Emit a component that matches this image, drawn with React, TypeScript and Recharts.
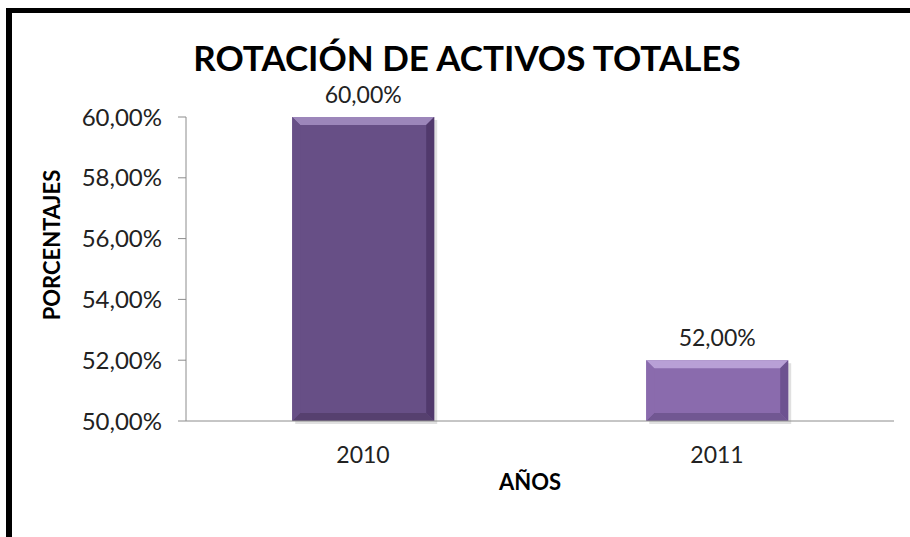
import React from 'react';
import { BarChart, Bar, XAxis, YAxis, Cell, LabelList } from 'recharts';

const years = ['2010', '2011'];
const rotation = [0.6, 0.52];
const yTicks = [0.5, 0.52, 0.54, 0.56, 0.58, 0.6];
const boundaryTicks = [0, 1, 2];

const FONT = 'Lato, "Open Sans", sans-serif';

// base / top bevel / side shade / bottom shade
const BAR_COLORS = [
  { base: '#674F86', top: '#9C86BA', side: '#51396C', bottom: '#56406F' },
  { base: '#8A6BAD', top: '#B8A0D6', side: '#6D5290', bottom: '#715792' },
];

const data = years.map((year, i) => ({ year, value: rotation[i] }));

const pct = (v: number) => (v * 100).toFixed(2).replace('.', ',') + '%';

const BevelBar = (props: any) => {
  const { x, y, width, height, index } = props;
  const c = BAR_COLORS[index] || BAR_COLORS[0];
  const b = 8;
  return (
    <g>
      <rect x={x + 3} y={y + 3} width={width} height={height} fill="rgba(0,0,0,0.12)" />
      <rect x={x} y={y} width={width} height={height} fill={c.base} />
      <polygon points={`${x},${y} ${x + width},${y} ${x + width - b},${y + b} ${x + b},${y + b}`} fill={c.top} />
      <polygon points={`${x + width},${y} ${x + width},${y + height} ${x + width - b},${y + height - b} ${x + width - b},${y + b}`} fill={c.side} />
      <polygon points={`${x},${y + height} ${x + width},${y + height} ${x + width - b},${y + height - b} ${x + b},${y + height - b}`} fill={c.bottom} />
      <polygon points={`${x},${y} ${x + b},${y + b} ${x + b},${y + height - b} ${x},${y + height}`} fill={c.base} opacity={0.9} />
    </g>
  );
};

export default function App() {
  return (
    <div style={{ position: 'absolute', left: 0, top: 0, width: 910, height: 537, background: '#fff', overflow: 'hidden', fontFamily: FONT }}>
      <div style={{ position: 'absolute', left: 6, top: 8, width: 920, height: 560, borderLeft: '6px solid #000', borderTop: '5px solid #000' }} />
      <div style={{ position: 'absolute', left: 0, top: 42, width: 934, height: 30, lineHeight: '30px', textAlign: 'center', fontSize: 35, fontWeight: 700, color: '#000', whiteSpace: 'nowrap' }}>
        ROTACIÓN DE ACTIVOS TOTALES
      </div>
      <div style={{ position: 'absolute', left: 0, top: 0 }}>
        <BarChart width={910} height={537} data={data} margin={{ top: 117, right: 16, bottom: 26, left: 0 }} barCategoryGap="30%">
          <XAxis
            xAxisId="bounds"
            type="number"
            domain={[0, 2]}
            ticks={boundaryTicks}
            height={1}
            tick={false}
            tickSize={8}
            axisLine={{ stroke: '#8c8c8c' }}
            tickLine={{ stroke: '#8c8c8c' }}
          />
          <XAxis
            dataKey="year"
            xAxisId="cat"
            height={89}
            tickLine={false}
            tickSize={0}
            tickMargin={25}
            axisLine={false}
            tick={{ fontSize: 23, fill: '#222', fontFamily: FONT }}
          />
          <YAxis
            width={186}
            domain={[0.5, 0.6]}
            ticks={yTicks}
            tickFormatter={pct}
            tickSize={8}
            tickMargin={16}
            axisLine={{ stroke: '#8c8c8c' }}
            tickLine={{ stroke: '#8c8c8c' }}
            tick={{ fontSize: 24, fill: '#222', fontFamily: FONT }}
          />
          <Bar dataKey="value" xAxisId="cat" shape={BevelBar} isAnimationActive={false}>
            {data.map((d, i) => (
              <Cell key={d.year} fill={BAR_COLORS[i].base} />
            ))}
            <LabelList dataKey="value" position="top" offset={14} formatter={(v: any) => pct(Number(v))} style={{ fontSize: 23, fill: '#222', fontFamily: FONT }} />
          </Bar>
        </BarChart>
      </div>
      <div style={{ position: 'absolute', left: 51, top: 245, transform: 'translate(-50%, -50%) rotate(-90deg)', fontSize: 22, fontWeight: 700, color: '#000', whiteSpace: 'nowrap' }}>
        PORCENTAJES
      </div>
      <div style={{ position: 'absolute', left: 530, top: 481, transform: 'translate(-50%, -50%)', fontSize: 22, fontWeight: 700, color: '#000', whiteSpace: 'nowrap' }}>
        AÑOS
      </div>
    </div>
  );
}
